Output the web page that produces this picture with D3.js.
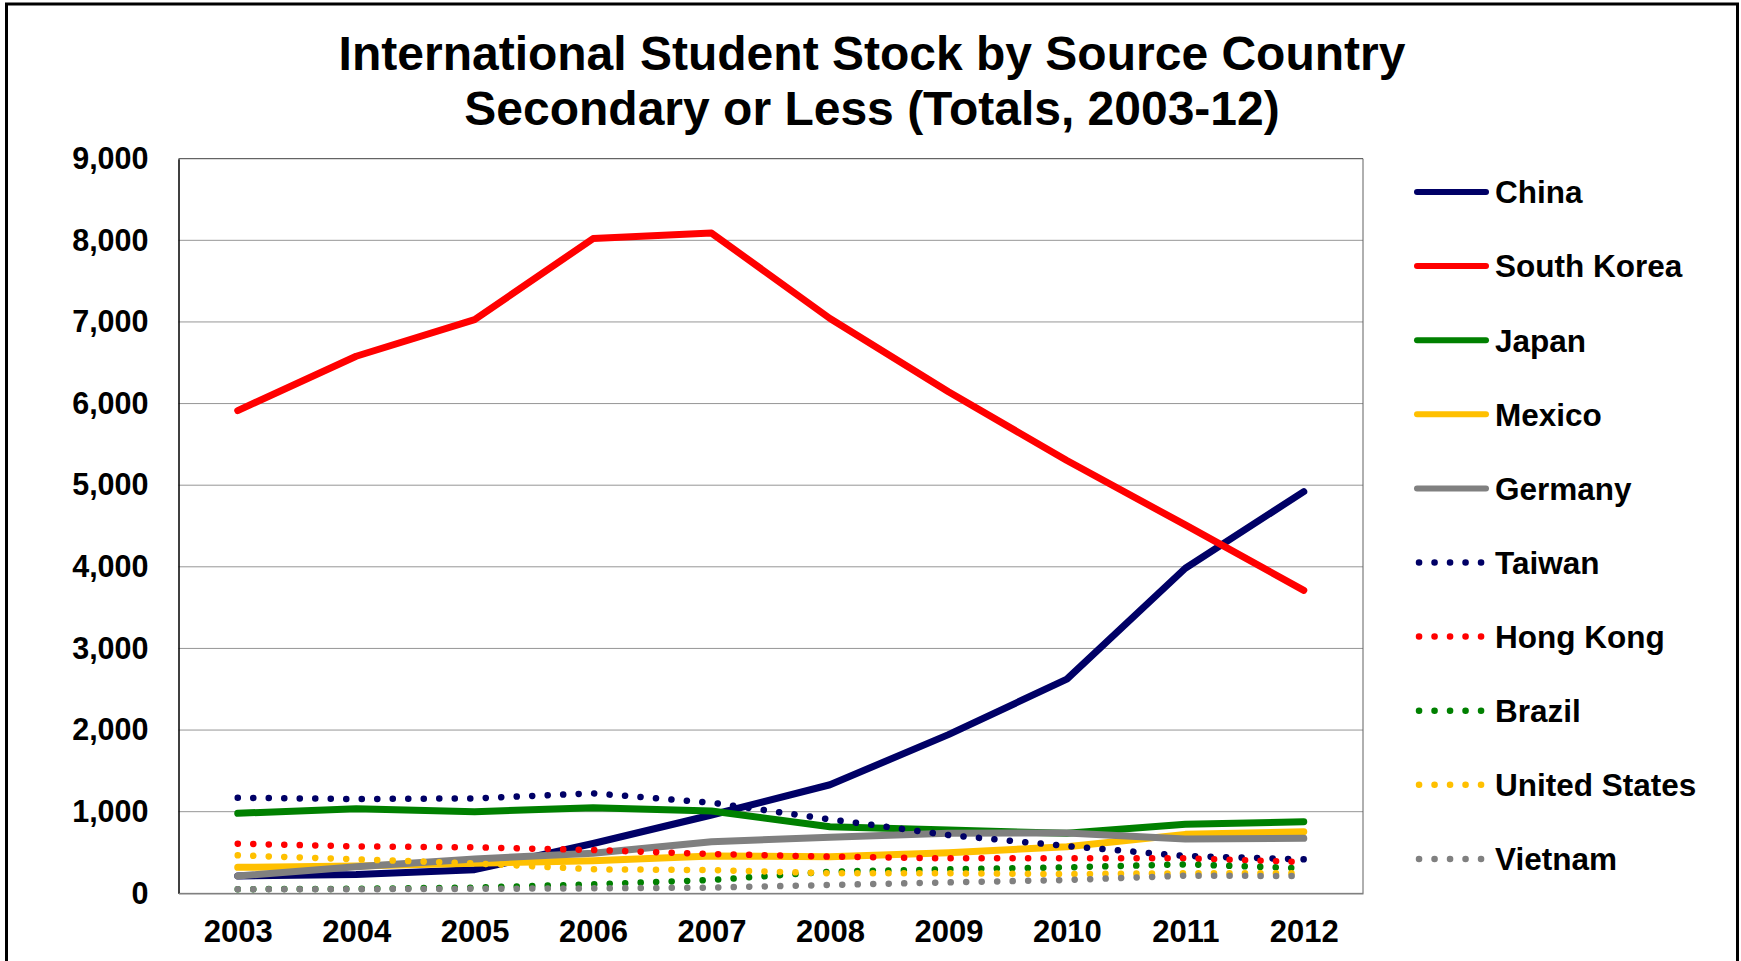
<!DOCTYPE html>
<html>
<head>
<meta charset="utf-8">
<script src="https://cdn.jsdelivr.net/npm/d3@7"></script>
<style>
  body { margin: 0; background: #fff; }
  svg { display: block; font-family: "Liberation Sans", Arial, sans-serif; }
</style>
</head>
<body>
<div class="visHolder"></div>
<script>
// data
var years = [2003, 2004, 2005, 2006, 2007, 2008, 2009, 2010, 2011, 2012];
var yTicks = [0, 1000, 2000, 3000, 4000, 5000, 6000, 7000, 8000, 9000];

var countries = ["China", "South Korea", "Japan", "Mexico", "Germany",
                 "Taiwan", "Hong Kong", "Brazil", "United States", "Vietnam"];

var china      = [212, 230, 290, 610, 959, 1330, 1944, 2624, 3983, 4921];
var southKorea = [5914, 6580, 7028, 8021, 8089, 7042, 6145, 5302, 4513, 3711];
var japan      = [980, 1036, 1000, 1049, 1008, 816, 775, 735, 845, 877];
var mexico     = [318, 334, 367, 400, 457, 449, 498, 571, 722, 755];
var germany    = [212, 326, 421, 490, 632, 686, 735, 740, 665, 673];
var taiwan     = [1171, 1155, 1163, 1225, 1110, 906, 714, 579, 457, 416];
var hongKong   = [608, 575, 563, 530, 481, 449, 428, 428, 428, 383];
var brazil     = [50, 55, 70, 110, 163, 265, 294, 318, 355, 306];
var unitedStates = [465, 416, 367, 294, 285, 245, 245, 236, 245, 245];
var vietnam    = [49, 50, 55, 61, 70, 102, 134, 163, 216, 212];

var values = [china, southKorea, japan, mexico, germany,
              taiwan, hongKong, brazil, unitedStates, vietnam];
var colors = ["#000066", "#FF0000", "#008000", "#FFC000", "#808080",
              "#000066", "#FF0000", "#008000", "#FFC000", "#808080"];
var dotted = [false, false, false, false, false, true, true, true, true, true];

var W = 1741, H = 961;
var margin = { top: 158.7, right: 378, bottom: 67.7, left: 178.5 },
    width = W - margin.left - margin.right,
    height = H - margin.top - margin.bottom;

var svg = d3.select(".visHolder")
    .append("svg")
    .attr("width", W)
    .attr("height", H);

// outer frame
svg.append("rect")
    .attr("x", 6.5).attr("y", 4)
    .attr("width", 1731).attr("height", 980)
    .attr("fill", "none")
    .attr("stroke", "#000")
    .attr("stroke-width", 3);

// title
var title = svg.append("text")
    .attr("text-anchor", "middle")
    .style("font-size", "48px")
    .style("font-weight", "bold");
title.append("tspan").attr("x", 872).attr("y", 70)
    .text("International Student Stock by Source Country");
title.append("tspan").attr("x", 872).attr("y", 124.5)
    .text("Secondary or Less (Totals, 2003-12)");

var g = svg.append("g")
    .attr("transform", "translate(" + margin.left + "," + margin.top + ")");

var x = d3.scalePoint()
    .domain(years)
    .range([0, width])
    .padding(0.5);

var y = d3.scaleLinear()
    .domain([0, 9000])
    .range([height, 0]);

// gridlines
g.append("g")
    .selectAll("line")
    .data(yTicks)
    .enter()
    .append("line")
    .attr("x1", 0).attr("x2", width)
    .attr("y1", (d) => y(d)).attr("y2", (d) => y(d))
    .attr("stroke", (d) => d === 9000 ? "#404040" : "#969696")
    .attr("stroke-width", 1);

// right edge of the plot area
g.append("line")
    .attr("x1", width).attr("x2", width)
    .attr("y1", 0).attr("y2", height)
    .attr("stroke", "#606060").attr("stroke-width", 1);

g.append("g")
    .call(d3.axisLeft(y)
        .tickValues(yTicks)
        .tickFormat(d3.format(","))
        .tickSize(0)
        .tickPadding(30))
    .call((a) => a.select(".domain").attr("stroke", "#000").attr("stroke-width", 1.5))
    .selectAll("text")
    .style("font-size", "30.5px")
    .style("font-weight", "bold")
    .attr("fill", "#000");

g.append("g")
    .attr("transform", "translate(0," + height + ")")
    .call(d3.axisBottom(x)
        .tickSize(0)
        .tickPadding(27))
    .call((a) => a.select(".domain").attr("stroke", "#808080").attr("stroke-width", 1.5))
    .selectAll("text")
    .style("font-size", "31px")
    .style("font-weight", "bold")
    .attr("fill", "#000");

var line = d3.line()
    .x((d, i) => x(years[i]))
    .y((d) => y(d));

values.forEach(function(v, k) {
    g.append("path")
        .datum(v)
        .attr("d", line)
        .attr("fill", "none")
        .attr("stroke", colors[k])
        .attr("stroke-width", dotted[k] ? 6.5 : 7)
        .attr("stroke-linecap", "round")
        .attr("stroke-linejoin", "round")
        .attr("stroke-dasharray", dotted[k] ? "0.1 15.4" : null);
});

// legend
var legend = svg.append("g")
    .attr("transform", "translate(1417,192)");

var rows = legend.selectAll("g")
    .data(countries)
    .enter()
    .append("g")
    .attr("transform", (d, i) => "translate(0," + (i * 74.1) + ")");

rows.append("line")
    .attr("x1", 0).attr("x2", 69)
    .attr("y1", 0).attr("y2", 0)
    .attr("stroke", (d, i) => colors[i])
    .attr("stroke-width", (d, i) => dotted[i] ? 6.5 : 6)
    .attr("stroke-linecap", "round")
    .attr("stroke-dasharray", (d, i) => dotted[i] ? "0.1 15.4" : null)
    .attr("transform", (d, i) => dotted[i] ? "translate(2,0)" : null);

rows.append("text")
    .attr("x", 78)
    .attr("dy", "0.36em")
    .style("font-size", "31.5px")
    .style("font-weight", "bold")
    .text((d) => d);
</script>
</body>
</html>
